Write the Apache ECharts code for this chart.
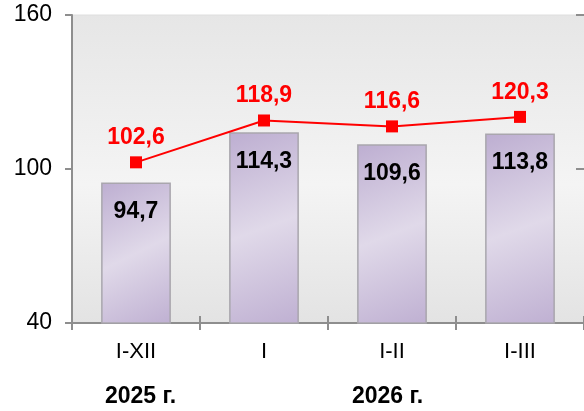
<!DOCTYPE html>
<html>
<head>
<meta charset="utf-8">
<script src="https://cdn.jsdelivr.net/npm/echarts@6/dist/echarts.min.js"></script>
<style>
  html, body { margin: 0; padding: 0; background: #ffffff; }
  #chart { width: 584px; height: 411px; }
</style>
</head>
<body>
<div id="chart"></div>
<script>
// Periods and year captions under the category axis
const periods = ['I-XII', 'I', 'I-II', 'I-III'];
const years = ['2025 г.', '', '2026 г.', ''];
// Bar series values
const barValues = [94.7, 114.3, 109.6, 113.8];
// Line series values
const lineValues = [102.6, 118.9, 116.6, 120.3];
// Value axis ticks
const yTicks = [40, 100, 160];

const comma = v => String(v).replace('.', ',');
const axisGray = '#8e8e8e';
const font = 'Liberation Sans, Arial, sans-serif';

const chart = echarts.init(document.getElementById('chart'), null, { renderer: 'canvas' });

const grid = { left: 72, top: 15, width: 518, height: 308 };

chart.setOption({
  animation: false,
  grid: grid,
  graphic: [{
    type: 'rect',
    z: -10,
    shape: { x: grid.left, y: grid.top, width: grid.width, height: grid.height },
    style: {
      fill: new echarts.graphic.LinearGradient(0, 0, 0, 1, [
        { offset: 0, color: '#e6e6e6' },
        { offset: 0.55, color: '#f4f4f4' },
        { offset: 1, color: '#e3e3e3' }
      ]),
      stroke: '#dedede',
      lineWidth: 1
    }
  }],
  xAxis: [{
    type: 'category',
    data: periods,
    position: 'bottom',
    axisLine: { lineStyle: { color: axisGray, width: 2 } },
    axisTick: { show: true, length: 7, lineStyle: { color: axisGray, width: 2 } },
    axisLabel: {
      margin: 18,
      fontFamily: font,
      fontSize: 22,
      color: '#000000'
    }
  }, {
    type: 'category',
    data: periods,
    position: 'bottom',
    axisLine: { show: false },
    axisTick: { show: true, inside: true, length: 7, lineStyle: { color: axisGray, width: 2 } },
    axisLabel: {
      margin: 62,
      color: '#000000',
      formatter: (v, i) => years[i] ? '{y' + i + '|' + years[i] + '}' : '',
      rich: {
        y0: { fontFamily: font, fontSize: 23, fontWeight: 'bold', color: '#000', padding: [0, 0, 0, 9] },
        y2: { fontFamily: font, fontSize: 23, fontWeight: 'bold', color: '#000', padding: [0, 9, 0, 0] }
      }
    }
  }],
  yAxis: [{
    type: 'value',
    min: yTicks[0],
    max: yTicks[yTicks.length - 1],
    interval: yTicks[1] - yTicks[0],
    splitLine: { show: false },
    axisLine: { show: true, lineStyle: { color: axisGray, width: 2 } },
    axisTick: { show: true, length: 7, lineStyle: { color: axisGray, width: 2 } },
    axisLabel: {
      margin: 20,
      fontFamily: font,
      fontSize: 23,
      color: '#000000'
    }
  }, {
    type: 'value',
    min: yTicks[0],
    max: yTicks[yTicks.length - 1],
    interval: yTicks[1] - yTicks[0],
    splitLine: { show: false },
    axisLine: { show: false },
    axisTick: { show: true, inside: true, length: 8, lineStyle: { color: axisGray, width: 2 } },
    axisLabel: { show: false }
  }],
  series: [{
    type: 'bar',
    data: barValues,
    barWidth: '54.5%',
    itemStyle: {
      color: new echarts.graphic.LinearGradient(0, 0, 1, 1, [
        { offset: 0, color: '#bdaed1' },
        { offset: 0.5, color: '#e0d9e9' },
        { offset: 1, color: '#bfb0d2' }
      ]),
      borderColor: '#a9a6ad',
      borderWidth: 1.5
    },
    label: {
      show: true,
      position: 'insideTop',
      distance: 18,
      formatter: p => comma(p.value),
      fontFamily: font,
      fontSize: 23,
      fontWeight: 'bold',
      color: '#000000'
    }
  }, {
    type: 'line',
    data: lineValues,
    symbol: 'rect',
    symbolSize: 12,
    lineStyle: { color: '#ff0000', width: 2 },
    itemStyle: { color: '#ff0000' },
    z: 5,
    label: {
      show: true,
      position: 'top',
      distance: 7,
      formatter: p => comma(p.value),
      fontFamily: font,
      fontSize: 23,
      fontWeight: 'bold',
      color: '#ff0000'
    }
  }]
});
</script>
</body>
</html>
